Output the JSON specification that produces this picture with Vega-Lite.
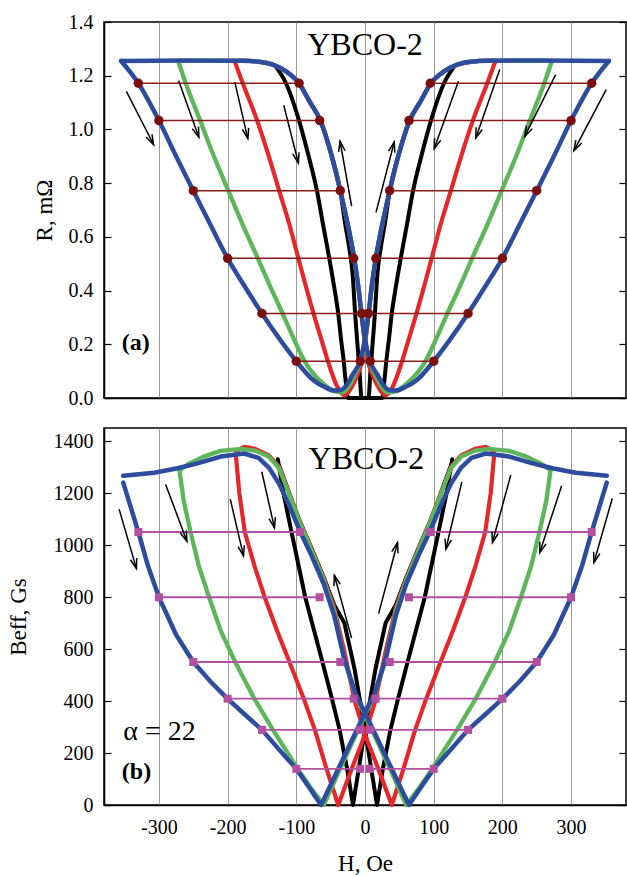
{
  "$schema": "https://vega.github.io/schema/vega-lite/v6.json",
  "padding": {"left": 6, "top": 11, "right": 0, "bottom": 0},
  "background": "white",
  "spacing": 18,
  "config": {
    "font": "Liberation Serif",
    "view": {"stroke": "black", "strokeWidth": 1.5},
    "axis": {
      "labelFont": "Liberation Serif", "titleFont": "Liberation Serif",
      "labelFontSize": 20, "titleFontSize": 23, "titleFontWeight": "normal",
      "labelColor": "black", "titleColor": "black",
      "domainColor": "black", "domainWidth": 1.5,
      "tickColor": "black", "tickWidth": 1.2,
      "gridColor": "#9a9a9a", "gridWidth": 1
    }
  },
  "datasets": {
    "rc": [
      {"c":"k","b":"a","h":-130,"v":1.235},{"c":"k","b":"a","h":-115,"v":1.172},{"c":"k","b":"a","h":-96,"v":1.033},{"c":"k","b":"a","h":-82,"v":0.9},{"c":"k","b":"a","h":-70,"v":0.772},{"c":"k","b":"a","h":-61,"v":0.645},{"c":"k","b":"a","h":-52,"v":0.52},{"c":"k","b":"a","h":-45,"v":0.415},{"c":"k","b":"a","h":-39,"v":0.315},{"c":"k","b":"a","h":-35,"v":0.222},{"c":"k","b":"a","h":-31,"v":0.137},{"c":"k","b":"a","h":-28,"v":0.06},{"c":"k","b":"a","h":-25,"v":0},{"c":"k","b":"a","h":5,"v":0},{"c":"k","b":"a","h":8,"v":0.1},{"c":"k","b":"a","h":11,"v":0.2},{"c":"k","b":"a","h":14,"v":0.3},{"c":"k","b":"a","h":18,"v":0.46},{"c":"k","b":"a","h":23,"v":0.56},{"c":"k","b":"a","h":29,"v":0.65},{"c":"k","b":"a","h":36,"v":0.772},{"c":"k","b":"a","h":49,"v":0.906},{"c":"k","b":"a","h":65,"v":1.033},{"c":"k","b":"a","h":81,"v":1.105},{"c":"k","b":"a","h":96,"v":1.172},{"c":"k","b":"a","h":115,"v":1.216},{"c":"k","b":"a","h":130,"v":1.235},
      {"c":"k","b":"d","h":130,"v":1.235},{"c":"k","b":"d","h":115,"v":1.172},{"c":"k","b":"d","h":96,"v":1.033},{"c":"k","b":"d","h":82,"v":0.9},{"c":"k","b":"d","h":70,"v":0.772},{"c":"k","b":"d","h":61,"v":0.645},{"c":"k","b":"d","h":52,"v":0.52},{"c":"k","b":"d","h":45,"v":0.415},{"c":"k","b":"d","h":39,"v":0.315},{"c":"k","b":"d","h":35,"v":0.222},{"c":"k","b":"d","h":31,"v":0.137},{"c":"k","b":"d","h":28,"v":0.06},{"c":"k","b":"d","h":25,"v":0},{"c":"k","b":"d","h":-5,"v":0},{"c":"k","b":"d","h":-8,"v":0.1},{"c":"k","b":"d","h":-11,"v":0.2},{"c":"k","b":"d","h":-14,"v":0.3},{"c":"k","b":"d","h":-18,"v":0.46},{"c":"k","b":"d","h":-23,"v":0.56},{"c":"k","b":"d","h":-29,"v":0.65},{"c":"k","b":"d","h":-36,"v":0.772},{"c":"k","b":"d","h":-49,"v":0.906},{"c":"k","b":"d","h":-65,"v":1.033},{"c":"k","b":"d","h":-81,"v":1.105},{"c":"k","b":"d","h":-96,"v":1.172},{"c":"k","b":"d","h":-115,"v":1.216},{"c":"k","b":"d","h":-130,"v":1.235},
      {"c":"r","b":"a","h":-190,"v":1.255},{"c":"r","b":"a","h":-178,"v":1.172},{"c":"r","b":"a","h":-157,"v":1.033},{"c":"r","b":"a","h":-140,"v":0.9},{"c":"r","b":"a","h":-125,"v":0.772},{"c":"r","b":"a","h":-110,"v":0.645},{"c":"r","b":"a","h":-97,"v":0.52},{"c":"r","b":"a","h":-86,"v":0.415},{"c":"r","b":"a","h":-75,"v":0.315},{"c":"r","b":"a","h":-64,"v":0.222},{"c":"r","b":"a","h":-54,"v":0.137},{"c":"r","b":"a","h":-40,"v":0.04},{"c":"r","b":"a","h":-30,"v":0.01},{"c":"r","b":"a","h":-22,"v":0.03},{"c":"r","b":"a","h":-12,"v":0.08},{"c":"r","b":"a","h":-5,"v":0.13},{"c":"r","b":"a","h":0,"v":0.2},{"c":"r","b":"a","h":5.3,"v":0.317},{"c":"r","b":"a","h":10,"v":0.42},{"c":"r","b":"a","h":16,"v":0.524},{"c":"r","b":"a","h":23,"v":0.62},{"c":"r","b":"a","h":36,"v":0.772},{"c":"r","b":"a","h":49,"v":0.906},{"c":"r","b":"a","h":65,"v":1.033},{"c":"r","b":"a","h":81,"v":1.105},{"c":"r","b":"a","h":96,"v":1.172},{"c":"r","b":"a","h":115,"v":1.216},{"c":"r","b":"a","h":134,"v":1.241},{"c":"r","b":"a","h":154,"v":1.252},{"c":"r","b":"a","h":175,"v":1.256},{"c":"r","b":"a","h":190,"v":1.255},
      {"c":"r","b":"d","h":190,"v":1.255},{"c":"r","b":"d","h":178,"v":1.172},{"c":"r","b":"d","h":157,"v":1.033},{"c":"r","b":"d","h":140,"v":0.9},{"c":"r","b":"d","h":125,"v":0.772},{"c":"r","b":"d","h":110,"v":0.645},{"c":"r","b":"d","h":97,"v":0.52},{"c":"r","b":"d","h":86,"v":0.415},{"c":"r","b":"d","h":75,"v":0.315},{"c":"r","b":"d","h":64,"v":0.222},{"c":"r","b":"d","h":54,"v":0.137},{"c":"r","b":"d","h":40,"v":0.04},{"c":"r","b":"d","h":30,"v":0.01},{"c":"r","b":"d","h":22,"v":0.03},{"c":"r","b":"d","h":12,"v":0.08},{"c":"r","b":"d","h":5,"v":0.13},{"c":"r","b":"d","h":0,"v":0.2},{"c":"r","b":"d","h":-5.3,"v":0.317},{"c":"r","b":"d","h":-10,"v":0.42},{"c":"r","b":"d","h":-16,"v":0.524},{"c":"r","b":"d","h":-23,"v":0.62},{"c":"r","b":"d","h":-36,"v":0.772},{"c":"r","b":"d","h":-49,"v":0.906},{"c":"r","b":"d","h":-65,"v":1.033},{"c":"r","b":"d","h":-81,"v":1.105},{"c":"r","b":"d","h":-96,"v":1.172},{"c":"r","b":"d","h":-115,"v":1.216},{"c":"r","b":"d","h":-134,"v":1.241},{"c":"r","b":"d","h":-154,"v":1.252},{"c":"r","b":"d","h":-175,"v":1.256},{"c":"r","b":"d","h":-190,"v":1.255},
      {"c":"g","b":"a","h":-272,"v":1.255},{"c":"g","b":"a","h":-261,"v":1.172},{"c":"g","b":"a","h":-240,"v":1.033},{"c":"g","b":"a","h":-220,"v":0.9},{"c":"g","b":"a","h":-199,"v":0.772},{"c":"g","b":"a","h":-178,"v":0.645},{"c":"g","b":"a","h":-156,"v":0.52},{"c":"g","b":"a","h":-138,"v":0.415},{"c":"g","b":"a","h":-120,"v":0.315},{"c":"g","b":"a","h":-104,"v":0.222},{"c":"g","b":"a","h":-88,"v":0.137},{"c":"g","b":"a","h":-62,"v":0.056},{"c":"g","b":"a","h":-45,"v":0.025},{"c":"g","b":"a","h":-33,"v":0.02},{"c":"g","b":"a","h":-22,"v":0.05},{"c":"g","b":"a","h":-15,"v":0.085},{"c":"g","b":"a","h":-6,"v":0.14},{"c":"g","b":"a","h":0,"v":0.21},{"c":"g","b":"a","h":5.3,"v":0.317},{"c":"g","b":"a","h":10,"v":0.42},{"c":"g","b":"a","h":16,"v":0.524},{"c":"g","b":"a","h":23,"v":0.62},{"c":"g","b":"a","h":36,"v":0.772},{"c":"g","b":"a","h":49,"v":0.906},{"c":"g","b":"a","h":65,"v":1.033},{"c":"g","b":"a","h":81,"v":1.105},{"c":"g","b":"a","h":96,"v":1.172},{"c":"g","b":"a","h":115,"v":1.216},{"c":"g","b":"a","h":134,"v":1.241},{"c":"g","b":"a","h":154,"v":1.252},{"c":"g","b":"a","h":180,"v":1.256},{"c":"g","b":"a","h":272,"v":1.255},
      {"c":"g","b":"d","h":272,"v":1.255},{"c":"g","b":"d","h":261,"v":1.172},{"c":"g","b":"d","h":240,"v":1.033},{"c":"g","b":"d","h":220,"v":0.9},{"c":"g","b":"d","h":199,"v":0.772},{"c":"g","b":"d","h":178,"v":0.645},{"c":"g","b":"d","h":156,"v":0.52},{"c":"g","b":"d","h":138,"v":0.415},{"c":"g","b":"d","h":120,"v":0.315},{"c":"g","b":"d","h":104,"v":0.222},{"c":"g","b":"d","h":88,"v":0.137},{"c":"g","b":"d","h":62,"v":0.056},{"c":"g","b":"d","h":45,"v":0.025},{"c":"g","b":"d","h":33,"v":0.02},{"c":"g","b":"d","h":22,"v":0.05},{"c":"g","b":"d","h":15,"v":0.085},{"c":"g","b":"d","h":6,"v":0.14},{"c":"g","b":"d","h":0,"v":0.21},{"c":"g","b":"d","h":-5.3,"v":0.317},{"c":"g","b":"d","h":-10,"v":0.42},{"c":"g","b":"d","h":-16,"v":0.524},{"c":"g","b":"d","h":-23,"v":0.62},{"c":"g","b":"d","h":-36,"v":0.772},{"c":"g","b":"d","h":-49,"v":0.906},{"c":"g","b":"d","h":-65,"v":1.033},{"c":"g","b":"d","h":-81,"v":1.105},{"c":"g","b":"d","h":-96,"v":1.172},{"c":"g","b":"d","h":-115,"v":1.216},{"c":"g","b":"d","h":-134,"v":1.241},{"c":"g","b":"d","h":-154,"v":1.252},{"c":"g","b":"d","h":-180,"v":1.256},{"c":"g","b":"d","h":-272,"v":1.255},
      {"c":"b","b":"a","h":-355,"v":1.255},{"c":"b","b":"a","h":-330,"v":1.172},{"c":"b","b":"a","h":-300,"v":1.033},{"c":"b","b":"a","h":-275,"v":0.9},{"c":"b","b":"a","h":-250,"v":0.772},{"c":"b","b":"a","h":-225,"v":0.645},{"c":"b","b":"a","h":-200,"v":0.52},{"c":"b","b":"a","h":-175,"v":0.415},{"c":"b","b":"a","h":-150,"v":0.315},{"c":"b","b":"a","h":-125,"v":0.222},{"c":"b","b":"a","h":-100,"v":0.137},{"c":"b","b":"a","h":-76,"v":0.068},{"c":"b","b":"a","h":-58,"v":0.04},{"c":"b","b":"a","h":-45,"v":0.028},{"c":"b","b":"a","h":-35,"v":0.03},{"c":"b","b":"a","h":-25,"v":0.055},{"c":"b","b":"a","h":-18,"v":0.087},{"c":"b","b":"a","h":-7,"v":0.14},{"c":"b","b":"a","h":0,"v":0.22},{"c":"b","b":"a","h":5.3,"v":0.317},{"c":"b","b":"a","h":10,"v":0.42},{"c":"b","b":"a","h":16,"v":0.524},{"c":"b","b":"a","h":23,"v":0.62},{"c":"b","b":"a","h":36,"v":0.772},{"c":"b","b":"a","h":49,"v":0.906},{"c":"b","b":"a","h":65,"v":1.033},{"c":"b","b":"a","h":81,"v":1.105},{"c":"b","b":"a","h":96,"v":1.172},{"c":"b","b":"a","h":115,"v":1.216},{"c":"b","b":"a","h":134,"v":1.241},{"c":"b","b":"a","h":154,"v":1.252},{"c":"b","b":"a","h":180,"v":1.256},{"c":"b","b":"a","h":260,"v":1.257},{"c":"b","b":"a","h":355,"v":1.255},
      {"c":"b","b":"d","h":355,"v":1.255},{"c":"b","b":"d","h":330,"v":1.172},{"c":"b","b":"d","h":300,"v":1.033},{"c":"b","b":"d","h":275,"v":0.9},{"c":"b","b":"d","h":250,"v":0.772},{"c":"b","b":"d","h":225,"v":0.645},{"c":"b","b":"d","h":200,"v":0.52},{"c":"b","b":"d","h":175,"v":0.415},{"c":"b","b":"d","h":150,"v":0.315},{"c":"b","b":"d","h":125,"v":0.222},{"c":"b","b":"d","h":100,"v":0.137},{"c":"b","b":"d","h":76,"v":0.068},{"c":"b","b":"d","h":58,"v":0.04},{"c":"b","b":"d","h":45,"v":0.028},{"c":"b","b":"d","h":35,"v":0.03},{"c":"b","b":"d","h":25,"v":0.055},{"c":"b","b":"d","h":18,"v":0.087},{"c":"b","b":"d","h":7,"v":0.14},{"c":"b","b":"d","h":0,"v":0.22},{"c":"b","b":"d","h":-5.3,"v":0.317},{"c":"b","b":"d","h":-10,"v":0.42},{"c":"b","b":"d","h":-16,"v":0.524},{"c":"b","b":"d","h":-23,"v":0.62},{"c":"b","b":"d","h":-36,"v":0.772},{"c":"b","b":"d","h":-49,"v":0.906},{"c":"b","b":"d","h":-65,"v":1.033},{"c":"b","b":"d","h":-81,"v":1.105},{"c":"b","b":"d","h":-96,"v":1.172},{"c":"b","b":"d","h":-115,"v":1.216},{"c":"b","b":"d","h":-134,"v":1.241},{"c":"b","b":"d","h":-154,"v":1.252},{"c":"b","b":"d","h":-180,"v":1.256},{"c":"b","b":"d","h":-260,"v":1.257},{"c":"b","b":"d","h":-355,"v":1.255}
    ],
    "rl": [
      {"h":-330,"h2":-96,"v":1.172},{"h":95,"h2":330,"v":1.172},
      {"h":-300,"h2":-66,"v":1.033},{"h":64,"h2":300,"v":1.033},
      {"h":-250,"h2":-36,"v":0.772},{"h":36,"h2":250,"v":0.772},
      {"h":-200,"h2":-16.5,"v":0.52},{"h":15.8,"h2":200,"v":0.52},
      {"h":-150,"h2":-4.8,"v":0.315},{"h":5,"h2":150,"v":0.315},
      {"h":-100,"h2":-6.8,"v":0.137},{"h":7.5,"h2":100,"v":0.137}
    ],
    "ra": [
      {"h":-347.4,"v":1.142,"h2":-307.7,"v2":0.943,"a":63.0},
      {"h":-271.4,"v":1.182,"h2":-241.9,"v2":0.971,"a":70.3},
      {"h":-189.5,"v":1.176,"h2":-170.6,"v2":0.966,"a":77.0},
      {"h":-118.3,"v":1.09,"h2":-97,"v2":0.875,"a":75.7},
      {"h":-19.5,"v":0.714,"h2":-36.3,"v2":0.956,"a":-100.1},
      {"h":16,"v":0.691,"h2":42.6,"v2":0.953,"a":-75.4},
      {"h":136,"v":1.179,"h2":100.7,"v2":0.928,"a":109.8},
      {"h":196.2,"v":1.223,"h2":161.3,"v2":0.968,"a":109.3},
      {"h":277.6,"v":1.204,"h2":232.6,"v2":0.974,"a":116.6},
      {"h":351.2,"v":1.148,"h2":304.2,"v2":0.921,"a":117.9}
    ],
    "bc": [
      {"c":"k","b":"a","h":-127,"v":1330},{"c":"k","b":"a","h":-118,"v":1190},{"c":"k","b":"a","h":-107,"v":1050},{"c":"k","b":"a","h":-87,"v":799},{"c":"k","b":"a","h":-62,"v":550},{"c":"k","b":"a","h":-48,"v":408},{"c":"k","b":"a","h":-37,"v":289},{"c":"k","b":"a","h":-26,"v":139},{"c":"k","b":"a","h":-17.5,"v":0},{"c":"k","b":"a","h":0,"v":290},{"c":"k","b":"a","h":15,"v":520},{"c":"k","b":"a","h":30,"v":700},{"c":"k","b":"a","h":45,"v":770},{"c":"k","b":"a","h":60,"v":875},{"c":"k","b":"a","h":78,"v":988},{"c":"k","b":"a","h":95,"v":1092},{"c":"k","b":"a","h":110,"v":1197},{"c":"k","b":"a","h":125,"v":1305},
      {"c":"k","b":"d","h":127,"v":1330},{"c":"k","b":"d","h":118,"v":1190},{"c":"k","b":"d","h":107,"v":1050},{"c":"k","b":"d","h":87,"v":799},{"c":"k","b":"d","h":62,"v":550},{"c":"k","b":"d","h":48,"v":408},{"c":"k","b":"d","h":37,"v":289},{"c":"k","b":"d","h":26,"v":139},{"c":"k","b":"d","h":17.5,"v":0},{"c":"k","b":"d","h":0,"v":290},{"c":"k","b":"d","h":-15,"v":520},{"c":"k","b":"d","h":-30,"v":700},{"c":"k","b":"d","h":-45,"v":770},{"c":"k","b":"d","h":-60,"v":875},{"c":"k","b":"d","h":-78,"v":988},{"c":"k","b":"d","h":-95,"v":1092},{"c":"k","b":"d","h":-110,"v":1197},{"c":"k","b":"d","h":-125,"v":1305},
      {"c":"r","b":"a","h":-188,"v":1345},{"c":"r","b":"a","h":-183,"v":1200},{"c":"r","b":"a","h":-175,"v":1050},{"c":"r","b":"a","h":-161,"v":920},{"c":"r","b":"a","h":-146,"v":799},{"c":"r","b":"a","h":-128,"v":670},{"c":"r","b":"a","h":-110,"v":550},{"c":"r","b":"a","h":-89,"v":408},{"c":"r","b":"a","h":-73,"v":289},{"c":"r","b":"a","h":-56,"v":139},{"c":"r","b":"a","h":-39,"v":0},{"c":"r","b":"a","h":-20,"v":135},{"c":"r","b":"a","h":0,"v":270},{"c":"r","b":"a","h":15,"v":400},{"c":"r","b":"a","h":30,"v":590},{"c":"r","b":"a","h":45,"v":760},{"c":"r","b":"a","h":60,"v":870},{"c":"r","b":"a","h":78,"v":985},{"c":"r","b":"a","h":95,"v":1090},{"c":"r","b":"a","h":110,"v":1195},{"c":"r","b":"a","h":125,"v":1300},{"c":"r","b":"a","h":140,"v":1345},{"c":"r","b":"a","h":160,"v":1370},{"c":"r","b":"a","h":176,"v":1378},{"c":"r","b":"a","h":188,"v":1360},
      {"c":"r","b":"d","h":188,"v":1345},{"c":"r","b":"d","h":183,"v":1200},{"c":"r","b":"d","h":175,"v":1050},{"c":"r","b":"d","h":161,"v":920},{"c":"r","b":"d","h":146,"v":799},{"c":"r","b":"d","h":128,"v":670},{"c":"r","b":"d","h":110,"v":550},{"c":"r","b":"d","h":89,"v":408},{"c":"r","b":"d","h":73,"v":289},{"c":"r","b":"d","h":56,"v":139},{"c":"r","b":"d","h":39,"v":0},{"c":"r","b":"d","h":20,"v":135},{"c":"r","b":"d","h":0,"v":270},{"c":"r","b":"d","h":-15,"v":400},{"c":"r","b":"d","h":-30,"v":590},{"c":"r","b":"d","h":-45,"v":760},{"c":"r","b":"d","h":-60,"v":870},{"c":"r","b":"d","h":-78,"v":985},{"c":"r","b":"d","h":-95,"v":1090},{"c":"r","b":"d","h":-110,"v":1195},{"c":"r","b":"d","h":-125,"v":1300},{"c":"r","b":"d","h":-140,"v":1345},{"c":"r","b":"d","h":-160,"v":1370},{"c":"r","b":"d","h":-176,"v":1378},{"c":"r","b":"d","h":-188,"v":1360},
      {"c":"g","b":"a","h":-270,"v":1285},{"c":"g","b":"a","h":-264,"v":1170},{"c":"g","b":"a","h":-254,"v":1050},{"c":"g","b":"a","h":-242,"v":920},{"c":"g","b":"a","h":-227,"v":799},{"c":"g","b":"a","h":-210,"v":670},{"c":"g","b":"a","h":-189,"v":550},{"c":"g","b":"a","h":-161,"v":408},{"c":"g","b":"a","h":-134,"v":289},{"c":"g","b":"a","h":-115,"v":210},{"c":"g","b":"a","h":-98,"v":139},{"c":"g","b":"a","h":-80,"v":70},{"c":"g","b":"a","h":-60,"v":0},{"c":"g","b":"a","h":-40,"v":118},{"c":"g","b":"a","h":-20,"v":232},{"c":"g","b":"a","h":0,"v":345},{"c":"g","b":"a","h":14,"v":425},{"c":"g","b":"a","h":30,"v":560},{"c":"g","b":"a","h":45,"v":745},{"c":"g","b":"a","h":60,"v":865},{"c":"g","b":"a","h":78,"v":980},{"c":"g","b":"a","h":95,"v":1088},{"c":"g","b":"a","h":110,"v":1192},{"c":"g","b":"a","h":125,"v":1295},{"c":"g","b":"a","h":140,"v":1340},{"c":"g","b":"a","h":160,"v":1363},{"c":"g","b":"a","h":180,"v":1370},{"c":"g","b":"a","h":210,"v":1362},{"c":"g","b":"a","h":235,"v":1340},{"c":"g","b":"a","h":255,"v":1315},{"c":"g","b":"a","h":270,"v":1288},
      {"c":"g","b":"d","h":270,"v":1285},{"c":"g","b":"d","h":264,"v":1170},{"c":"g","b":"d","h":254,"v":1050},{"c":"g","b":"d","h":242,"v":920},{"c":"g","b":"d","h":227,"v":799},{"c":"g","b":"d","h":210,"v":670},{"c":"g","b":"d","h":189,"v":550},{"c":"g","b":"d","h":161,"v":408},{"c":"g","b":"d","h":134,"v":289},{"c":"g","b":"d","h":115,"v":210},{"c":"g","b":"d","h":98,"v":139},{"c":"g","b":"d","h":80,"v":70},{"c":"g","b":"d","h":60,"v":0},{"c":"g","b":"d","h":40,"v":118},{"c":"g","b":"d","h":20,"v":232},{"c":"g","b":"d","h":0,"v":345},{"c":"g","b":"d","h":-14,"v":425},{"c":"g","b":"d","h":-30,"v":560},{"c":"g","b":"d","h":-45,"v":745},{"c":"g","b":"d","h":-60,"v":865},{"c":"g","b":"d","h":-78,"v":980},{"c":"g","b":"d","h":-95,"v":1088},{"c":"g","b":"d","h":-110,"v":1192},{"c":"g","b":"d","h":-125,"v":1295},{"c":"g","b":"d","h":-140,"v":1340},{"c":"g","b":"d","h":-160,"v":1363},{"c":"g","b":"d","h":-180,"v":1370},{"c":"g","b":"d","h":-210,"v":1362},{"c":"g","b":"d","h":-235,"v":1340},{"c":"g","b":"d","h":-255,"v":1315},{"c":"g","b":"d","h":-270,"v":1288},
      {"c":"b","b":"a","h":-352,"v":1240},{"c":"b","b":"a","h":-330,"v":1050},{"c":"b","b":"a","h":-316,"v":920},{"c":"b","b":"a","h":-300,"v":799},{"c":"b","b":"a","h":-275,"v":655},{"c":"b","b":"a","h":-250,"v":550},{"c":"b","b":"a","h":-225,"v":475},{"c":"b","b":"a","h":-200,"v":408},{"c":"b","b":"a","h":-175,"v":348},{"c":"b","b":"a","h":-150,"v":289},{"c":"b","b":"a","h":-125,"v":213},{"c":"b","b":"a","h":-100,"v":139},{"c":"b","b":"a","h":-82,"v":70},{"c":"b","b":"a","h":-64,"v":0},{"c":"b","b":"a","h":-40,"v":133},{"c":"b","b":"a","h":-20,"v":244},{"c":"b","b":"a","h":0,"v":355},{"c":"b","b":"a","h":14,"v":430},{"c":"b","b":"a","h":30,"v":560},{"c":"b","b":"a","h":45,"v":730},{"c":"b","b":"a","h":60,"v":850},{"c":"b","b":"a","h":78,"v":960},{"c":"b","b":"a","h":95,"v":1055},{"c":"b","b":"a","h":110,"v":1150},{"c":"b","b":"a","h":125,"v":1235},{"c":"b","b":"a","h":140,"v":1298},{"c":"b","b":"a","h":155,"v":1335},{"c":"b","b":"a","h":176,"v":1352},{"c":"b","b":"a","h":210,"v":1340},{"c":"b","b":"a","h":244,"v":1314},{"c":"b","b":"a","h":273,"v":1295},{"c":"b","b":"a","h":307,"v":1278},{"c":"b","b":"a","h":352,"v":1266},
      {"c":"b","b":"d","h":352,"v":1240},{"c":"b","b":"d","h":330,"v":1050},{"c":"b","b":"d","h":316,"v":920},{"c":"b","b":"d","h":300,"v":799},{"c":"b","b":"d","h":275,"v":655},{"c":"b","b":"d","h":250,"v":550},{"c":"b","b":"d","h":225,"v":475},{"c":"b","b":"d","h":200,"v":408},{"c":"b","b":"d","h":175,"v":348},{"c":"b","b":"d","h":150,"v":289},{"c":"b","b":"d","h":125,"v":213},{"c":"b","b":"d","h":100,"v":139},{"c":"b","b":"d","h":82,"v":70},{"c":"b","b":"d","h":64,"v":0},{"c":"b","b":"d","h":40,"v":133},{"c":"b","b":"d","h":20,"v":244},{"c":"b","b":"d","h":0,"v":355},{"c":"b","b":"d","h":-14,"v":430},{"c":"b","b":"d","h":-30,"v":560},{"c":"b","b":"d","h":-45,"v":730},{"c":"b","b":"d","h":-60,"v":850},{"c":"b","b":"d","h":-78,"v":960},{"c":"b","b":"d","h":-95,"v":1055},{"c":"b","b":"d","h":-110,"v":1150},{"c":"b","b":"d","h":-125,"v":1235},{"c":"b","b":"d","h":-140,"v":1298},{"c":"b","b":"d","h":-155,"v":1335},{"c":"b","b":"d","h":-176,"v":1352},{"c":"b","b":"d","h":-210,"v":1340},{"c":"b","b":"d","h":-244,"v":1314},{"c":"b","b":"d","h":-273,"v":1295},{"c":"b","b":"d","h":-307,"v":1278},{"c":"b","b":"d","h":-352,"v":1266}
    ],
    "bl": [
      {"h":-330,"h2":-95,"v":1050},{"h":95,"h2":330,"v":1050},
      {"h":-300,"h2":-66,"v":799},{"h":64,"h2":300,"v":799},
      {"h":-250,"h2":-36,"v":550},{"h":36,"h2":250,"v":550},
      {"h":-200,"h2":-16.5,"v":409},{"h":15.5,"h2":200,"v":409},
      {"h":-150,"h2":-7,"v":289},{"h":7,"h2":150,"v":289},
      {"h":-100,"h2":-7,"v":139},{"h":6.5,"h2":100,"v":139}
    ],
    "ba": [
      {"h":-358,"v":1138,"h2":-332.8,"v2":909,"a":73.8},
      {"h":-290.3,"v":1233,"h2":-259.3,"v2":1014.6,"a":69.4},
      {"h":-196.2,"v":1176.5,"h2":-176.9,"v2":958,"a":76.8},
      {"h":-150.3,"v":1281.7,"h2":-131.8,"v2":1066,"a":77.2},
      {"h":-19.5,"v":642,"h2":-44.6,"v2":883.6,"a":-105.4},
      {"h":19.8,"v":736,"h2":47.4,"v2":1009.6,"a":-75},
      {"h":141,"v":1243,"h2":117.7,"v2":983.8,"a":103.4},
      {"h":212.2,"v":1269,"h2":185.5,"v2":1009.6,"a":105.3},
      {"h":286.3,"v":1227.8,"h2":254.4,"v2":971,"a":108.2},
      {"h":360,"v":1179,"h2":333.3,"v2":932.5,"a":106}
    ]
  },
  "vconcat": [
    {
      "width": 522, "height": 376,
      "resolve": {"axis": {"y": "independent"}},
      "layer": [
        {
          "layer": [
            {
              "data": {"name": "rc"},
              "mark": {"type": "line", "interpolate": "monotone", "strokeCap": "round", "strokeJoin": "round"},
              "encoding": {
                "x": {"field": "h", "type": "quantitative", "scale": {"domain": [-380, 380], "nice": false, "zero": false},
                      "axis": {"values": [-300,-200,-100,0,100,200,300], "labels": false, "ticks": false, "title": null, "grid": true}},
                "y": {"field": "v", "type": "quantitative", "scale": {"domain": [0, 1.4], "nice": false},
                      "axis": {"values": [0,0.2,0.4,0.6,0.8,1,1.2,1.4], "format": ".1f", "title": "R, mΩ", "grid": false, "tickSize": -7, "labelPadding": 18, "titlePadding": 12, "orient": "left"}},
                "color": {"field": "c", "type": "nominal", "scale": {"domain": ["k","r","g","b"], "range": ["#000000","#E5262B","#5DB65A","#2D4C9E"]}, "legend": null},
                "strokeWidth": {"field": "c", "type": "nominal", "scale": {"domain": ["k","r","g","b"], "range": [4, 4.5, 5, 5.5]}, "legend": null},
                "detail": {"field": "b"}
              }
            },
            {
              "data": {"name": "rl"},
              "mark": {"type": "rule", "color": "#8B1A1A", "strokeWidth": 1.5},
              "encoding": {"x": {"field": "h", "type": "quantitative"}, "x2": {"field": "h2"}, "y": {"field": "v", "type": "quantitative"}}
            },
            {
              "data": {"name": "rl"},
              "mark": {"type": "point", "shape": "circle", "filled": true, "color": "#7A1010", "size": 90, "opacity": 1},
              "encoding": {"x": {"field": "h", "type": "quantitative"}, "y": {"field": "v", "type": "quantitative"}}
            },
            {
              "data": {"name": "rl"},
              "mark": {"type": "point", "shape": "circle", "filled": true, "color": "#7A1010", "size": 90, "opacity": 1},
              "encoding": {"x": {"field": "h2", "type": "quantitative"}, "y": {"field": "v", "type": "quantitative"}}
            },
            {
              "data": {"name": "ra"},
              "mark": {"type": "rule", "color": "black", "strokeWidth": 1.5},
              "encoding": {"x": {"field": "h", "type": "quantitative"}, "x2": {"field": "h2"}, "y": {"field": "v", "type": "quantitative"}, "y2": {"field": "v2"}}
            },
            {
              "data": {"name": "ra"},
              "mark": {"type": "point", "shape": "M -1 -0.32 L 0 0 L -1 0.32", "filled": false, "color": "black", "strokeWidth": 1.5, "size": 420, "opacity": 1},
              "encoding": {"x": {"field": "h2", "type": "quantitative"}, "y": {"field": "v2", "type": "quantitative"}, "angle": {"field": "a", "type": "quantitative", "scale": null}}
            },
            {
              "data": {"values": [{"t": "YBCO-2", "h": 0, "v": 1.313}]},
              "mark": {"type": "text", "font": "Liberation Serif", "fontSize": 32, "align": "center", "baseline": "middle", "color": "black"},
              "encoding": {"x": {"field": "h", "type": "quantitative"}, "y": {"field": "v", "type": "quantitative"}, "text": {"field": "t"}}
            },
            {
              "data": {"values": [{"t": "(a)", "h": -354, "v": 0.204}]},
              "mark": {"type": "text", "font": "Liberation Serif", "fontSize": 24, "fontWeight": "bold", "align": "left", "baseline": "middle", "color": "black"},
              "encoding": {"x": {"field": "h", "type": "quantitative"}, "y": {"field": "v", "type": "quantitative"}, "text": {"field": "t"}}
            }
          ]
        },
        {
          "data": {"name": "rl"},
          "mark": {"type": "point", "opacity": 0},
          "encoding": {
            "x": {"field": "h", "type": "quantitative", "scale": {"domain": [-380, 380], "nice": false, "zero": false}},
            "y": {"field": "v", "type": "quantitative", "scale": {"domain": [0, 1.4], "nice": false},
                  "axis": {"orient": "right", "values": [0,0.2,0.4,0.6,0.8,1,1.2,1.4], "labels": false, "domain": false, "grid": false, "title": null, "tickSize": -7}}
          }
        }
      ]
    },
    {
      "width": 522, "height": 377,
      "resolve": {"axis": {"y": "independent"}},
      "layer": [
        {
          "layer": [
            {
              "data": {"name": "bc"},
              "mark": {"type": "line", "interpolate": "linear", "strokeCap": "round", "strokeJoin": "round"},
              "encoding": {
                "x": {"field": "h", "type": "quantitative", "scale": {"domain": [-380, 380], "nice": false, "zero": false},
                      "axis": {"values": [-300,-200,-100,0,100,200,300], "labelExpr": "datum.value + ''", "title": "H, Oe", "ticks": false, "grid": true, "labelPadding": 12, "titlePadding": 15}},
                "y": {"field": "v", "type": "quantitative", "scale": {"domain": [0, 1450], "nice": false},
                      "axis": {"values": [0,200,400,600,800,1000,1200,1400], "format": "d", "title": "Beff, Gs", "grid": false, "tickSize": -7, "labelPadding": 18, "titlePadding": 23, "orient": "left"}},
                "color": {"field": "c", "type": "nominal", "scale": {"domain": ["k","r","g","b"], "range": ["#000000","#E5262B","#5DB65A","#2D4C9E"]}, "legend": null},
                "strokeWidth": {"field": "c", "type": "nominal", "scale": {"domain": ["k","r","g","b"], "range": [4, 4.5, 5, 5.5]}, "legend": null},
                "detail": {"field": "b"}
              }
            },
            {
              "data": {"name": "bl"},
              "mark": {"type": "rule", "color": "#B24FA0", "strokeWidth": 1.8},
              "encoding": {"x": {"field": "h", "type": "quantitative"}, "x2": {"field": "h2"}, "y": {"field": "v", "type": "quantitative"}}
            },
            {
              "data": {"name": "bl"},
              "mark": {"type": "point", "shape": "square", "filled": true, "color": "#B24FA0", "size": 64, "opacity": 1},
              "encoding": {"x": {"field": "h", "type": "quantitative"}, "y": {"field": "v", "type": "quantitative"}}
            },
            {
              "data": {"name": "bl"},
              "mark": {"type": "point", "shape": "square", "filled": true, "color": "#B24FA0", "size": 64, "opacity": 1},
              "encoding": {"x": {"field": "h2", "type": "quantitative"}, "y": {"field": "v", "type": "quantitative"}}
            },
            {
              "data": {"name": "ba"},
              "mark": {"type": "rule", "color": "black", "strokeWidth": 1.5},
              "encoding": {"x": {"field": "h", "type": "quantitative"}, "x2": {"field": "h2"}, "y": {"field": "v", "type": "quantitative"}, "y2": {"field": "v2"}}
            },
            {
              "data": {"name": "ba"},
              "mark": {"type": "point", "shape": "M -1 -0.32 L 0 0 L -1 0.32", "filled": false, "color": "black", "strokeWidth": 1.5, "size": 420, "opacity": 1},
              "encoding": {"x": {"field": "h2", "type": "quantitative"}, "y": {"field": "v2", "type": "quantitative"}, "angle": {"field": "a", "type": "quantitative", "scale": null}}
            },
            {
              "data": {"values": [{"t": "YBCO-2", "h": 2, "v": 1331}]},
              "mark": {"type": "text", "font": "Liberation Serif", "fontSize": 32, "align": "center", "baseline": "middle", "color": "black"},
              "encoding": {"x": {"field": "h", "type": "quantitative"}, "y": {"field": "v", "type": "quantitative"}, "text": {"field": "t"}}
            },
            {
              "data": {"values": [{"t": "α = 22", "h": -352, "v": 282}]},
              "mark": {"type": "text", "font": "Liberation Serif", "fontSize": 28, "align": "left", "baseline": "middle", "color": "black"},
              "encoding": {"x": {"field": "h", "type": "quantitative"}, "y": {"field": "v", "type": "quantitative"}, "text": {"field": "t"}}
            },
            {
              "data": {"values": [{"t": "(b)", "h": -354, "v": 128}]},
              "mark": {"type": "text", "font": "Liberation Serif", "fontSize": 24, "fontWeight": "bold", "align": "left", "baseline": "middle", "color": "black"},
              "encoding": {"x": {"field": "h", "type": "quantitative"}, "y": {"field": "v", "type": "quantitative"}, "text": {"field": "t"}}
            }
          ]
        },
        {
          "data": {"name": "bl"},
          "mark": {"type": "point", "opacity": 0},
          "encoding": {
            "x": {"field": "h", "type": "quantitative", "scale": {"domain": [-380, 380], "nice": false, "zero": false}},
            "y": {"field": "v", "type": "quantitative", "scale": {"domain": [0, 1450], "nice": false},
                  "axis": {"orient": "right", "values": [0,200,400,600,800,1000,1200,1400], "labels": false, "domain": false, "grid": false, "title": null, "tickSize": -7}}
          }
        }
      ]
    }
  ]
}
